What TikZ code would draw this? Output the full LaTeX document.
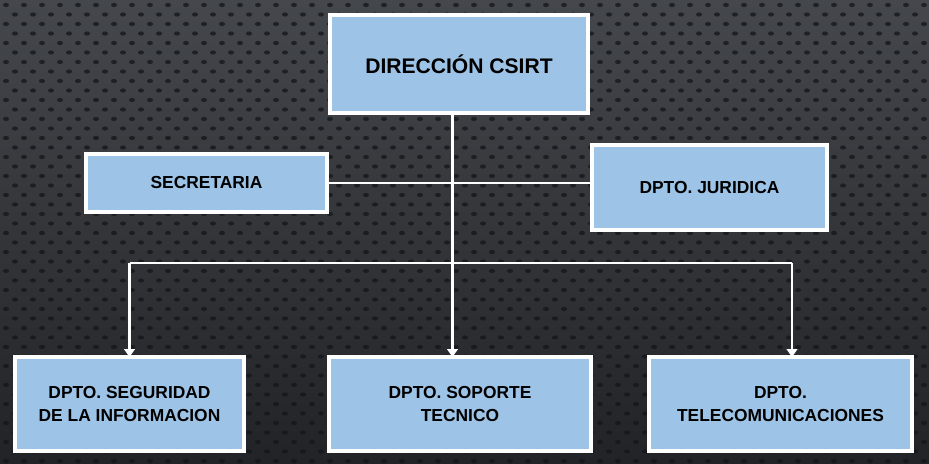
\documentclass[tikz,border=0pt]{standalone}
\usepackage{fontspec}
\setmainfont{Liberation Sans}
\usetikzlibrary{positioning, arrows.meta, calc}

\definecolor{boxblue}{RGB}{157,195,230}
\definecolor{bgtop}{RGB}{68,71,76}
\definecolor{bgbottom}{RGB}{34,35,38}
\definecolor{dotgray}{RGB}{20,21,24}

\begin{document}
\begin{tikzpicture}[
    >=LaTeX,
    % Styles
    box/.style={ % Department box
        rectangle,
        draw=white,
        line width=2pt,
        outer sep=0pt,
        fill=boxblue,
        text=black,
        align=center,
        font=\bfseries\fontsize{9.9}{12.6}\selectfont
    },
    link/.style={ % Plain white connector
        draw=white,
        line width=1.3pt
    },
    arrow/.style={
        link,
        -{Triangle[width=6pt,length=4.5pt]}
    },
    dot/.style={
        fill=dotgray,
        opacity=0.75
    }
]
    % Background with dot texture
    \useasboundingbox (0,0) rectangle (18.58,-9.26);
    \shade[top color=bgtop, bottom color=bgbottom] (0,0) rectangle (18.58,-9.26);
    \begin{scope}
        \clip (0,0) rectangle (18.58,-9.26);
        \foreach \r in {0,...,49} {
            \foreach \c in {0,...,52} {
                \fill[dot] ({\c*0.36 + mod(\r,2)*0.18 + 0.12}, {-\r*0.19 - 0.1}) ellipse (0.06 and 0.042);
            }
        }
    \end{scope}

    % Organisation chart boxes
    \node[box, minimum width=5.16cm, minimum height=1.96cm,
          font=\bfseries\fontsize{12}{14}\selectfont] (direccion) at (9.18,-1.28) {DIRECCIÓN CSIRT};
    \node[box, minimum width=4.82cm, minimum height=1.16cm] (secretaria) [below left=0.82cm and 0.06cm of direccion] {SECRETARIA};
    \node[box, minimum width=4.70cm, minimum height=1.70cm] (juridica) [below right=0.64cm and 0.08cm of direccion] {DPTO. JURIDICA};
    \node[box, minimum width=5.24cm, minimum height=1.88cm] (soporte) [below=4.88cm of direccion, xshift=0.02cm] {DPTO. SOPORTE\\TECNICO};
    \node[box, minimum width=4.58cm, minimum height=1.88cm] (seguridad) [left=1.70cm of soporte] {DPTO. SEGURIDAD\\DE LA INFORMACION};
    \node[box, minimum width=5.26cm, minimum height=1.88cm] (telecom) [right=1.16cm of soporte] {DPTO.\\TELECOMUNICACIONES};

    % Connectors
    \coordinate (bus) at ([yshift=-3.0cm]direccion.south);
    \coordinate (supin) at ([xshift=-0.15cm]soporte.north);
    \coordinate (telin) at ([xshift=0.23cm]telecom.north);
    \draw[arrow] (direccion.south -| supin) -- (supin);
    \draw[link] (secretaria.east) -- (juridica.west |- secretaria.east);
    \draw[link] (seguridad.north |- bus) -- (telin |- bus);
    \draw[arrow] (seguridad.north |- bus) -- (seguridad.north);
    \draw[arrow] (telin |- bus) -- (telin);
\end{tikzpicture}
\end{document}
